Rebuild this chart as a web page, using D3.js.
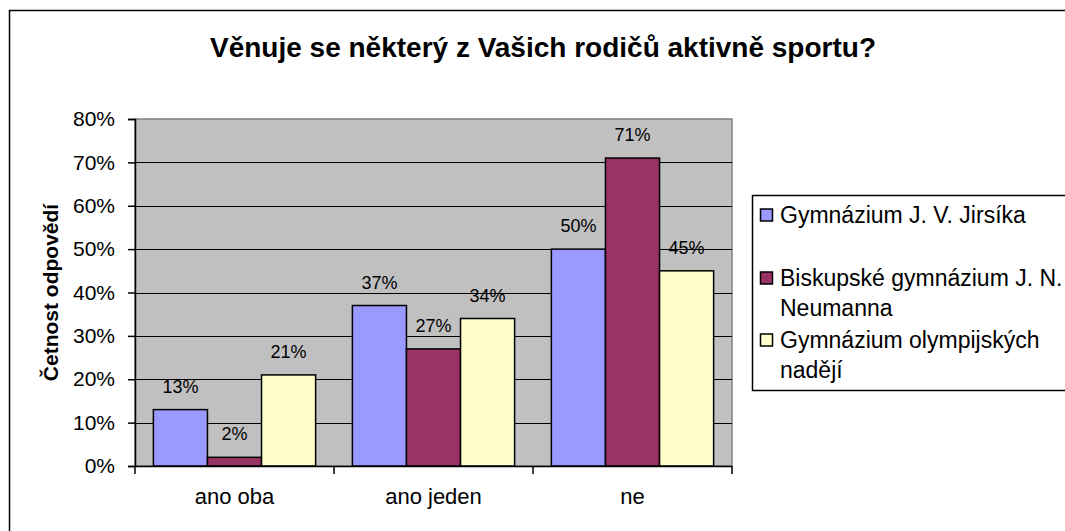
<!DOCTYPE html>
<html>
<head>
<meta charset="utf-8">
<script src="https://cdn.jsdelivr.net/npm/d3@7"></script>
<style>
  body { margin: 0; background: #fff; }
  text { font-family: "Liberation Sans", Arial, sans-serif; fill: #000; }
</style>
</head>
<body>
<div id="chart"></div>
<script>
var svgWidth = 1065;
var svgHeight = 531;

// data
var categories = ["ano oba", "ano jeden", "ne"];
var seriesNames = [
  ["Gymnázium J. V. Jirsíka"],
  ["Biskupské gymnázium J. N.", "Neumanna"],
  ["Gymnázium olympijských", "nadějí"]
];
var jirsika = [13, 37, 50];
var biskupske = [2, 27, 71];
var olympijske = [21, 34, 45];
var yTicks = [0, 10, 20, 30, 40, 50, 60, 70, 80];
var colors = ["#9999FF", "#993366", "#FFFFCC"];

var series = [jirsika, biskupske, olympijske];

var plot = { left: 135, top: 119, right: 732, bottom: 466 };

var svg = d3.select("#chart")
  .append("svg")
  .attr("width", svgWidth)
  .attr("height", svgHeight);

// outer chart frame
svg.append("rect")
  .attr("x", 9.5)
  .attr("y", 10.5)
  .attr("width", svgWidth)
  .attr("height", svgHeight)
  .attr("fill", "#fff")
  .attr("stroke", "#000")
  .attr("stroke-width", 1.5);

// title
svg.append("text")
  .attr("x", 543)
  .attr("y", 57)
  .attr("text-anchor", "middle")
  .style("font-size", "28px")
  .style("font-weight", "bold")
  .text("Věnuje se některý z Vašich rodičů aktivně sportu?");

// scales
var x0 = d3.scaleBand()
  .domain(categories)
  .range([plot.left, plot.right]);

var x1 = d3.scaleBand()
  .domain(d3.range(series.length))
  .range([0, x0.bandwidth()])
  .paddingInner(0)
  .paddingOuter(0.34);

var y = d3.scaleLinear()
  .domain([0, 80])
  .range([plot.bottom, plot.top]);

// plot background
svg.append("rect")
  .attr("x", plot.left)
  .attr("y", plot.top)
  .attr("width", plot.right - plot.left)
  .attr("height", plot.bottom - plot.top)
  .attr("fill", "#C0C0C0")
  .attr("stroke", "#808080")
  .attr("stroke-width", 1.5);

// gridlines
svg.append("g")
  .selectAll("line")
  .data(yTicks.filter(d => d > 0 && d < 80))
  .enter()
  .append("line")
  .attr("x1", plot.left)
  .attr("x2", plot.right)
  .attr("y1", d => Math.round(y(d)) + 0.5)
  .attr("y2", d => Math.round(y(d)) + 0.5)
  .attr("stroke", "#000")
  .attr("stroke-width", 1);

// bars
var groups = svg.append("g")
  .selectAll("g")
  .data(categories)
  .enter()
  .append("g")
  .attr("transform", d => `translate(${x0(d)},0)`);

groups.selectAll("rect")
  .data((d, i) => series.map((s, j) => ({ s: j, v: s[i] })))
  .enter()
  .append("rect")
  .attr("x", d => x1(d.s))
  .attr("y", d => y(d.v))
  .attr("width", x1.bandwidth())
  .attr("height", d => y(0) - y(d.v))
  .attr("fill", d => colors[d.s])
  .attr("stroke", "#000")
  .attr("stroke-width", 1.5);

groups.selectAll("text")
  .data((d, i) => series.map((s, j) => ({ s: j, v: s[i] })))
  .enter()
  .append("text")
  .attr("x", d => x1(d.s) + x1.bandwidth() / 2)
  .attr("y", d => y(d.v) - 17)
  .attr("text-anchor", "middle")
  .style("font-size", "18px")
  .text(d => d.v + "%");

// y axis
var leftAxis = d3.axisLeft(y)
  .tickValues(yTicks)
  .tickSize(7)
  .tickPadding(13)
  .tickFormat(d => d + "%");

var yAxis = svg.append("g")
  .attr("transform", `translate(${plot.left},0)`)
  .call(leftAxis);
yAxis.selectAll("text").style("font-size", "21px");
yAxis.selectAll("line, path").attr("stroke", "#000").attr("stroke-width", 1.5);

// x axis
var bottomAxis = d3.axisBottom(x0)
  .tickSize(0)
  .tickPadding(22);

var xAxis = svg.append("g")
  .attr("transform", `translate(0,${plot.bottom})`)
  .call(bottomAxis);
xAxis.select(".domain").attr("stroke", "#000").attr("stroke-width", 1.5);
xAxis.selectAll("text").style("font-size", "22px");

// category separator ticks
xAxis.append("g")
  .selectAll("line")
  .data(categories.map(d => x0(d)).concat([plot.right]))
  .enter()
  .append("line")
  .attr("x1", d => d)
  .attr("x2", d => d)
  .attr("y1", 0)
  .attr("y2", 8)
  .attr("stroke", "#000")
  .attr("stroke-width", 1.5);

// y axis title
svg.append("text")
  .attr("transform", `translate(58,${(plot.top + plot.bottom) / 2}) rotate(-90)`)
  .attr("text-anchor", "middle")
  .style("font-size", "21px")
  .style("font-weight", "bold")
  .text("Četnost odpovědí");

// legend
var legend = svg.append("g");
legend.append("rect")
  .attr("x", 752.5)
  .attr("y", 195.5)
  .attr("width", 400)
  .attr("height", 195)
  .attr("fill", "#fff")
  .attr("stroke", "#000")
  .attr("stroke-width", 1.5);

var legendY = [215, 278, 340];
var items = legend.selectAll("g.item")
  .data(seriesNames)
  .enter()
  .append("g")
  .attr("class", "item")
  .attr("transform", (d, i) => `translate(760,${legendY[i]})`);

items.append("rect")
  .attr("x", 0.5)
  .attr("y", -6)
  .attr("width", 12)
  .attr("height", 12)
  .attr("fill", (d, i) => colors[i])
  .attr("stroke", "#000")
  .attr("stroke-width", 1.5);

items.append("text")
  .attr("x", 20)
  .attr("y", 8)
  .style("font-size", "23px")
  .selectAll("tspan")
  .data(d => d)
  .enter()
  .append("tspan")
  .attr("x", 20)
  .attr("dy", (d, i) => i === 0 ? 0 : 30)
  .text(d => d);
</script>
</body>
</html>
